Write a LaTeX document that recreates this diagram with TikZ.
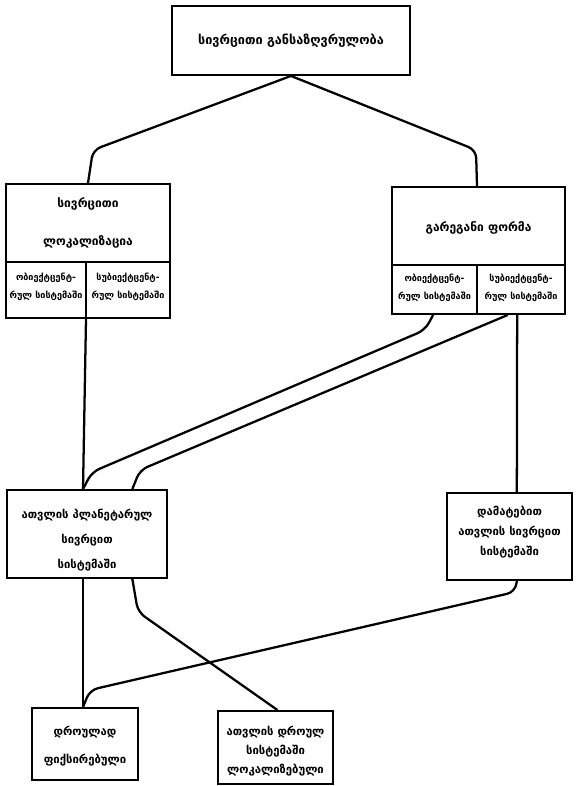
\documentclass[tikz,border=0pt]{standalone}
\usepackage{fontspec}
\setmainfont{DejaVu Sans}
\begin{document}
\begin{tikzpicture}[x=0.75pt,y=-0.75pt,
  box/.style={draw,line width=1.4pt,inner sep=0pt},
  rule/.style={line width=1.2pt},
  link/.style={line width=1.7pt,rounded corners=6pt},
  head/.style={align=center,font=\bfseries\fontsize{9}{28}\selectfont},
  lbl/.style={align=center,font=\bfseries\fontsize{8.5}{19}\selectfont},
  small/.style={align=center,font=\bfseries\fontsize{6.8}{13.5}\selectfont}]
\useasboundingbox (0,0) rectangle (577,786);

% boxes
\node[box,minimum width=178.5pt,minimum height=51.75pt] (T) at (291,40.5) {};
\node[box,minimum width=123pt,minimum height=100.5pt] (L) at (88,251) {};
\node[box,minimum width=129.75pt,minimum height=95.25pt] (R) at (478.5,250.5) {};
\node[box,minimum width=120pt,minimum height=66pt] (M1) at (87,534) {};
\node[box,minimum width=93.75pt,minimum height=65.25pt] (M2) at (509.5,536.5) {};
\node[box,minimum width=79.5pt,minimum height=54pt] (B1) at (85,744) {};
\node[box,minimum width=86.25pt,minimum height=54.75pt] (B2) at (275.5,747.5) {};

% sub-divisions of the two upper boxes
\coordinate (Lh) at (86,262);
\coordinate (Rh) at (477,265);
\draw[rule] (L.west |- Lh) -- (L.east |- Lh);
\draw[rule] (Lh) -- (Lh |- L.south);
\draw[rule] (R.west |- Rh) -- (R.east |- Rh);
\draw[rule] (Rh) -- (Rh |- R.south);

% texts
\node[head,font=\bfseries\fontsize{9.5}{12}\selectfont] (Tt) at (291,41) {სივრცითი განსაზღვრულობა};
\node[head] (Lt) at (88,223) {სივრცითი\\ლოკალიზაცია};
\node[small] (La) at (46,287) {ობიექტცენტ-\\რულ სისტემაში};
\node[small] (Lb) at (128,287) {სუბიექტცენტ-\\რულ სისტემაში};
\node[head] (Rt) at (478.5,228) {გარეგანი ფორმა};
\node[small] (Ra) at (434.5,288) {ობიექტცენტ-\\რულ სისტემაში};
\node[small] (Rb) at (521,288) {სუბიექტცენტ-\\რულ სისტემაში};
\node[lbl] (M1t) at (87,540) {ათვლის პლანეტარულ\\სივრცით\\სისტემაში};
\node[lbl,font=\bfseries\fontsize{8.5}{15}\selectfont] (M2t) at (509.5,532) {დამატებით\\ათვლის სივრცით\\სისტემაში};
\node[lbl,font=\bfseries\fontsize{8.5}{21}\selectfont] (B1t) at (85,746) {დროულად\\ფიქსირებული};
\node[lbl,font=\bfseries\fontsize{8.5}{14}\selectfont] (B2t) at (275.5,751) {ათვლის დროულ\\სისტემაში\\ლოკალიზებული};

% connectors
\draw[link] (T.south) -- (93,150) -- (L.north);
\draw[link] (T.south) -- (476,150) -- (Rh |- R.north);
\draw[link] (Lh |- L.south) -- ([xshift=-3pt]M1.north);
\draw[link] ([xshift=-34pt]R.south) -- (425,330) -- (92,472) -- ([xshift=-3pt]M1.north);
\draw[link] ([xshift=22pt]R.south) -- (140,470) -- ([xshift=34pt]M1.north);
\draw[link] ([xshift=29pt]R.south) -- ([xshift=5.5pt]M2.north);
\draw[link] ([xshift=-3pt]M1.south) -- ([xshift=-1.5pt]B1.north);
\draw[link] ([xshift=34pt]M1.south) -- (138,612) -- ([xshift=1.5pt]B2.north);
\draw[link] ([xshift=5.5pt]M2.south) -- (515,592) -- (90,690) -- ([xshift=-1.5pt]B1.north);
\end{tikzpicture}
\end{document}
